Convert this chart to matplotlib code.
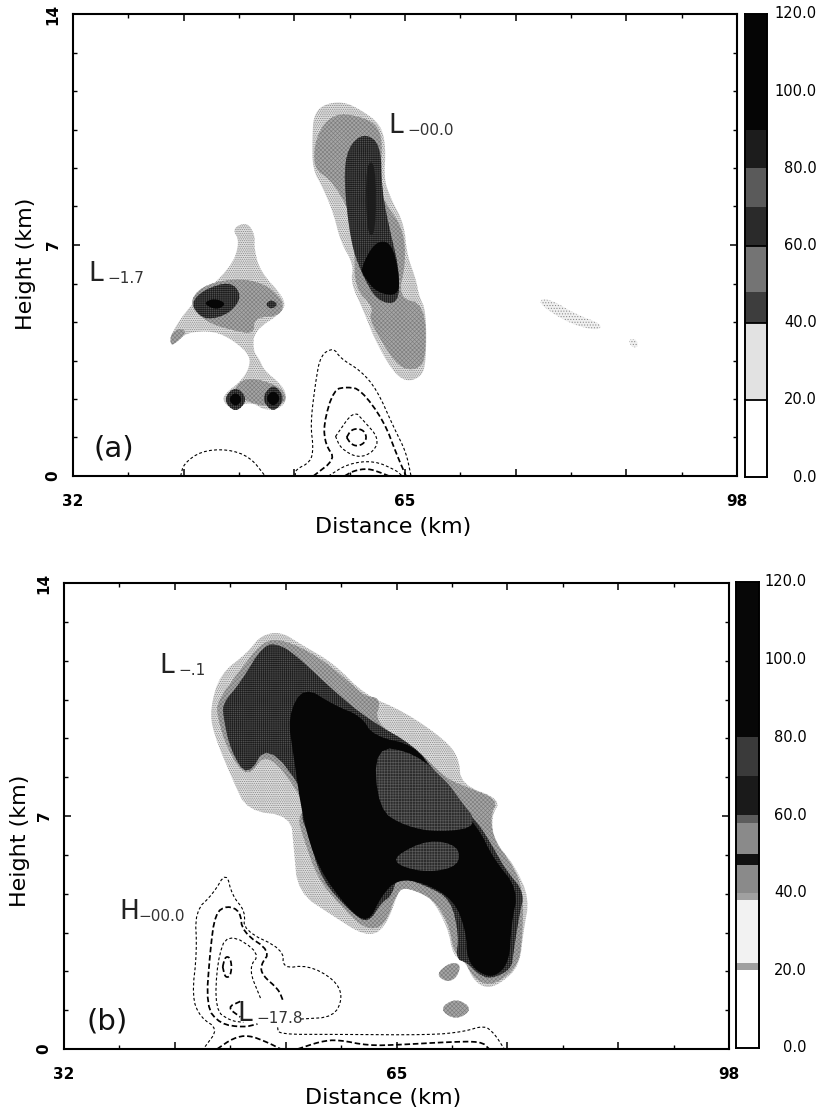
import numpy as np
import matplotlib
matplotlib.use("Agg")
import matplotlib.pyplot as plt

plt.rcParams['hatch.linewidth'] = 0.45

W, H = 822, 1115
# face colour, hatch, hatch colour per reflectivity class (halftone look)
LIGHT = ('#dedede', '.........', '#7a7a7a')
FAINT = ('#f0f0f0', '......', '#888888')
GRAY = ('#a6a6a6', 'xxxxxxxx', '#7c7c7c')
DARK = ('#505050', '++++++++', '#1c1c1c')
BLACK = ('#060606', None, '#060606')
MOTTLE = ('#2c2c2c', '++++++', '#5c5c5c')
STREAK = ('#1c1c1c', None, '#1c1c1c')

# ---------- panel (a) reflectivity outlines (km, km) ----------
a_upper_20 = [(55.9,10.9),(56.8,11.25),(58.8,11.35),(60.6,11.1),(62.6,10.65),(63.1,9.95),(62.9,9.0),(63.6,8.4),(64.9,7.65),(65.2,6.7),(66.1,5.95),(66.4,5.45),(67.1,5.0),(67.1,3.45),(66.6,3.0),(65.1,2.85),(63.7,3.2),(61.9,4.2),(60.9,5.0),(59.6,5.85),(59.9,6.4),(58.6,7.1),(57.9,7.95),(56.9,8.7),(55.8,9.3),(55.8,10.25)]
a_upper_40 = [(56.1,10.3),(57.9,11.0),(60.6,10.9),(62.4,10.6),(62.8,9.9),(62.3,8.8),(63,8.3),(64.8,7.5),(65.1,6.5),(64.3,5.4),(67,5.2),(67.1,3.5),(66,3.2),(64.4,3.3),(62.8,4.0),(61.4,4.8),(61.9,5.1),(60,5.7),(60,6.9),(59.6,8),(57.6,9.0),(55.9,9.3)]
a_upper_60 = [(59.3,9.95),(60.9,10.4),(62.6,10.05),(62.7,8.6),(63.6,7.3),(64.4,6.3),(64.4,5.2),(62.2,5.3),(60.6,6.2),(59.6,7.1),(58.9,9.0)]
a_upper_80 = [(60.6,6.3),(62,7.1),(63.6,7.1),(64.4,6.2),(64.4,5.45),(62.2,5.55),(60.9,6.05)]
a_streak_80 = [(61.1,9.5),(62.1,9.5),(62.1,7.3),(61.2,7.3)]
a_left_20 = [(41.7,4.3),(43.7,5.2),(47.7,6.3),(48.6,7.1),(47.8,7.5),(49.3,7.7),(50.1,7.3),(50,6.9),(50.6,6.2),(53,5.4),(53,5.0),(50,4.4),(49.9,3.8),(50.5,3.55),(51,3.2),(52.8,2.75),(53.3,2.35),(52.6,2.04),(51,2.0),(50,2.2),(49,2.2),(47.8,2.0),(46.8,2.3),(47.3,2.55),(48.6,2.85),(49.5,3.25),(49.6,3.65),(48,4.1),(46,4.4),(43.3,4.35),(42.3,4.05),(41.7,4.0)]
a_left_40 = [(43.5,5.2),(44.7,5.75),(48,6.0),(51,5.85),(53,5.3),(52.6,4.85),(50,4.8),(50,4.3),(48,4.4),(45.3,4.65)]
a_tip_40 = [(41.7,4.3),(42.7,4.5),(43.3,4.35),(42.3,4.05),(41.7,3.95)]
a_lobe_40 = [(49.3,3.03),(52.8,2.7),(53.3,2.2),(51,2.1),(49,2.3),(47.8,2.6)]
a_left_60 = [(43.7,5.23),(45,5.65),(47.7,5.9),(48.8,5.45),(47.7,4.97),(46,4.76),(44.7,4.81)]
a_left_80 = [(44.9,5.23),(46,5.39),(47.3,5.23),(46.3,5.02)]
a_spot_60 = [(51.1,5.2),(51.7,5.35),(52.4,5.2),(51.7,5.05)]
a_dot1_60 = [(46.9,2.32),(48.15,2.74),(49.4,2.32),(48.15,1.9)]
a_dot2_60 = [(50.7,2.35),(51.9,2.82),(53.1,2.35),(51.9,1.9)]
a_dot1_80 = [(47.4,2.32),(48.15,2.56),(48.9,2.32),(48.15,2.08)]
a_dot2_80 = [(51.1,2.35),(51.9,2.62),(52.7,2.35),(51.9,2.08)]
a_far1_20 = [(78.3,5.35),(79.5,5.35),(82,4.9),(84.6,4.6),(84.2,4.4),(81.5,4.6),(78.8,5.1)]
a_far2_20 = [(87.2,4.15),(88,4.15),(88.2,3.9),(87.5,3.9)]

# ---------- panel (a) contours ----------
a_c1 = [(54.1,0),(54.1,0.19),(55.6,0.42),(55.9,0.84),(55.6,1.57),(56.1,2.83),(56.6,3.66),(57.9,3.89),(58.6,3.56),(60.6,3.19),(62.2,2.62),(63.9,1.46),(65.1,0.73),(65.6,0)]
a_c2 = [(55.9,0),(58.1,0.52),(57.1,0.94),(56.9,1.57),(57.9,2.62),(59.3,2.7),(60.6,2.62),(62.9,1.67),(64.2,0.63),(65.1,0)]
a_c3 = [(58.1,1.2),(59.9,1.99),(60.9,1.67),(62.4,1.15),(61.9,0.73),(60.3,0.54),(58.6,0.84),(58.1,1.2)]
a_c4 = [(59.2,1.17),(59.6,1.38),(60.2,1.44),(60.9,1.38),(61.2,1.17),(60.9,0.98),(60.2,0.9),(59.6,0.98),(59.2,1.17)]
a_c5 = [(57.4,0),(59.3,0.37),(61.9,0.47),(64.2,0.16),(64.7,0)]
a_c6 = [(59.0,0),(59.9,0.16),(61.3,0.23),(62.6,0.1),(63.4,0)]
a_c7 = [(42.7,0),(43,0.37),(44.7,0.75),(47.3,0.82),(49.6,0.58),(51.1,0)]

# ---------- panel (b) reflectivity outlines ----------
b_20 = [(46.5,10.23),(47.5,11.27),(50.2,11.9),(51.5,12.42),(53.5,12.54),(55.5,12.16),(58.8,11.58),(61.8,10.65),(65.8,10.13),(69.8,9.29),(71.2,8.75),(71.4,7.94),(75.4,7.5),(74.4,6.98),(74.7,6.25),(76.7,5.52),(78.2,4.53),(77.6,3.54),(77.2,2.5),(75.4,1.98),(73.9,1.82),(72.6,2.08),(71.9,2.6),(70.6,2.81),(70.1,3.65),(68.4,4.58),(66.1,4.95),(65.5,4.97),(63.8,3.56),(61.8,3.4),(58.8,3.98),(55.2,4.7),(54.8,6.06),(54.5,7.0),(50.2,7.16),(48.8,8.04),(46.8,9.5)]
b_40 = [(47.2,10.44),(49.5,11.4),(51.8,12.27),(53.8,12.3),(57.2,11.8),(60.2,11.06),(61.8,10.6),(63.5,10.54),(62.8,9.8),(66.8,9.08),(69.8,8.15),(71.7,7.9),(75.1,7.5),(74.3,7.0),(74.7,6.25),(76.6,5.5),(77.6,4.7),(77.5,3.4),(77.1,2.5),(75.1,2),(73.7,1.93),(72.4,2.24),(71.7,2.7),(70.7,2.9),(70.2,3.75),(68.7,4.5),(66.1,4.85),(65.1,4.75),(63.8,3.67),(61.8,3.6),(59.5,4.3),(57.2,5.1),(55.7,6.4),(55.2,6.95),(56.2,7.3),(52.2,9),(50.2,8.1),(48.2,9),(47.2,10)]
b_60 = [(47.8,10.4),(49.5,11),(51.8,12.15),(53.5,12.15),(55.5,11.7),(58.8,10.75),(62.2,9.9),(66.8,9.1),(68.8,8.35),(69.4,8.1),(70.1,7.7),(73.1,6.8),(74.7,6.0),(75.8,5.4),(77.7,4.7),(77.2,4.05),(76.6,2.9),(76.4,2.4),(74.4,2.1),(73.1,2.25),(72,2.6),(70.9,2.7),(71.2,3.4),(70.4,4.5),(68,4.9),(65.1,5.2),(64.5,4.6),(63.5,4.4),(62.2,3.77),(60.5,4.1),(57.5,5.1),(56.2,6.5),(55.5,7),(56.2,7.6),(52.2,9.2),(50.2,8.15),(48.5,9),(47.8,10)]
b_80 = [(54.2,10),(55.8,10.9),(58.8,10.33),(61.5,10),(62.7,9.4),(66.8,9.13),(68.8,8.25),(69.4,8.0),(70.1,7.6),(73.1,6.67),(74.6,5.73),(77.1,4.79),(76.4,3.75),(76.2,2.6),(74.7,2.14),(73.1,2.3),(72,2.7),(71.9,3.54),(70.7,4.48),(67.7,5),(65.1,5.1),(63.5,4.6),(62.2,3.77),(60.2,4.2),(57.2,5.44),(55.7,6.9),(54.8,8.77)]
b_mottle1 = [(62.8,9.1),(66.8,8.9),(70.1,8.0),(71,7.6),(73.3,6.7),(69.3,6.5),(65.8,6.7),(63.2,7.2)]
b_mottle2 = [(64.8,5.8),(68.2,6.3),(71.2,6.1),(71.2,5.5),(68.2,5.3),(65.2,5.5)]
b_blob1 = [(68.9,2.25),(70.3,2.6),(71.4,2.55),(71,2.15),(70,2.0)]
b_blob2 = [(69.2,1.2),(70.9,1.54),(72.6,1.2),(70.9,0.86)]

# ---------- panel (b) contours ----------
b_c1 = [(46,0.07),(47.3,0.6),(45.5,0.96),(44.7,1.58),(45.2,2.94),(45,4.14),(46.8,4.66),(48.1,5.33),(48.7,4.6),(50,4.14),(49.8,3.56),(53.8,2.99),(53.7,2.42),(56.2,2.52),(58.8,2.1),(59.7,1.58),(58.8,0.96),(55.5,0.9)]
b_c2 = [(53.2,0.65),(53.3,0.44),(58.8,0.44),(68.4,0.42),(71.7,0.52),(73.7,0.71),(74.7,0.47),(75.7,0)]
b_c3 = [(53.7,1.48),(53.3,1.79),(51.7,2.21),(51.5,2.52),(52.5,2.94),(49.7,3.51),(49.5,4.14),(48.2,4.31),(47,4.08),(46.5,2.94),(46.1,1.27),(47.5,0.75),(49.8,0.65),(51.2,0.75)]
b_c4 = [(51.5,1.53),(50.3,2.42),(51.5,2.89),(48.2,3.51),(47.2,2.63),(47,1.17),(48.5,0.85),(49.8,0.8)]
b_c5 = [(47.75,2.47),(47.95,2.72),(48.2,2.78),(48.5,2.72),(48.65,2.47),(48.5,2.2),(48.2,2.15),(47.95,2.2),(47.75,2.47)]
b_c6 = [(49.5,1.43),(48.2,1.25),(49.5,0.96)]
b_c7 = [(47.2,0),(48.8,0.33),(50.3,0.42),(52.2,0.2),(53.5,0)]
b_c8 = [(55.2,0),(57.5,0.23),(59.2,0.28),(62.2,0.1),(65.5,0.13),(70.1,0.21),(73.4,0.23),(74.2,0)]

# ---------- colour bars ----------
cbar_ticks = [0, 20, 40, 60, 80, 100, 120]
cbar_labels = ['0.0', '20.0', '40.0', '60.0', '80.0', '100.0', '120.0']
cbar_a_edges = [0, 20, 40, 48, 60, 70, 80, 90, 120]
cbar_a_cols = ['#ffffff', '#e2e2e2', '#3d3d3d', '#747474', '#2a2a2a', '#5a5a5a', '#1c1c1c', '#050505']
cbar_a_rules = [20, 40, 60]
cbar_b_edges = [0, 20, 22, 38, 40, 47, 50, 58, 60, 70, 80, 120]
cbar_b_cols = ['#ffffff', '#a0a0a0', '#f2f2f2', '#a0a0a0', '#8a8a8a', '#111111', '#8a8a8a', '#5c5c5c', '#1a1a1a', '#3a3a3a', '#070707']
cbar_b_rules = []

x_major = [32, 43, 54, 65, 76, 87, 98]
x_minor = [37.5, 48.5, 59.5, 70.5, 81.5, 92.5]
x_labels = ['32', '', '', '65', '', '', '98']
y_major = [0, 7, 14]
y_minor = [1.1667, 2.3333, 3.5, 4.6667, 5.8333, 8.1667, 9.3333, 10.5, 11.6667, 12.8333]


def smooth(pts, closed=True, n=2):
    p = np.asarray(pts, float)
    for _ in range(n):
        if closed:
            q = np.roll(p, -1, axis=0)
            p = np.column_stack([0.75*p + 0.25*q, 0.25*p + 0.75*q]).reshape(-1, 2)
        else:
            a, b = p[:-1], p[1:]
            mid = np.column_stack([0.75*a + 0.25*b, 0.25*a + 0.75*b]).reshape(-1, 2)
            p = np.vstack([p[:1], mid, p[-1:]])
    return p


def fill(ax, pts, style):
    s = smooth(pts)
    face, hatch, edge = style
    ax.fill(s[:, 0], s[:, 1], facecolor=face, hatch=hatch, edgecolor=edge, lw=0, zorder=2)


def contour(ax, pts, thick=False):
    s = smooth(pts, closed=False)
    ax.plot(s[:, 0], s[:, 1], color='k', lw=1.25 if thick else 0.8,
            dashes=(3.2, 1.6) if thick else (2.6, 2.0), zorder=4)


def px_axes(l, r, t, b):
    return fig.add_axes([l/W, 1-b/H, (r-l)/W, (b-t)/H])


def frame(ax, xl, yl):
    ax.set_xlim(32, 98)
    ax.set_ylim(0, 14)
    ax.set_xticks(x_major)
    ax.set_xticklabels(x_labels, fontsize=11, fontweight='bold')
    ax.set_xticks(x_minor, minor=True)
    ax.set_yticks(y_major)
    ax.set_yticklabels(['0', '7', '14'], rotation=90, va='center', fontsize=11, fontweight='bold')
    ax.set_yticks(y_minor, minor=True)
    ax.tick_params(which='major', direction='in', length=5, width=1.1, top=True, right=True)
    ax.tick_params(which='minor', direction='in', length=3, width=1.0, top=True, right=True)
    ax.tick_params(axis='x', which='major', pad=13)
    ax.tick_params(axis='y', which='major', pad=9)
    for s in ax.spines.values():
        s.set_linewidth(1.5)
    ax.set_xlabel('Distance (km)', fontsize=16)
    ax.set_ylabel('Height (km)', fontsize=16)
    ax.xaxis.set_label_coords(*xl)
    ax.yaxis.set_label_coords(*yl)


def cbar(l, r, t, b, edges, cols, rules, pad):
    c = px_axes(l, r, t, b)
    c.bar(np.zeros(len(cols)), np.diff(edges), bottom=edges[:-1], width=1, color=cols, lw=0)
    for v in rules:
        c.axhline(v, color='k', lw=1.3)
    c.set_xlim(-0.5, 0.5)
    c.set_ylim(0, 120)
    c.set_xticks([])
    c.set_yticks([])
    for v, lab in zip(cbar_ticks, cbar_labels):
        c.annotate(lab, (1, v), xycoords=c.get_yaxis_transform(), xytext=(pad, 0),
                   textcoords='offset points', ha='right', va='center', fontsize=10.5, annotation_clip=False)
    for s in c.spines.values():
        s.set_linewidth(1.4)


def label(ax, x, y, big, sub):
    ax.text(x, y, big, fontsize=19, color='#222222', ha='left', va='baseline', zorder=6)
    ax.text(x + 1.9, y - 0.06, sub, fontsize=11, color='#333333', ha='left', va='baseline', zorder=6)


fig = plt.figure(figsize=(W/100, H/100), dpi=100)

# panel (a)
ax = px_axes(73, 737, 14, 476)
for poly, col in [(a_upper_20, LIGHT), (a_left_20, LIGHT), (a_far1_20, FAINT), (a_far2_20, FAINT),
                  (a_upper_40, GRAY), (a_left_40, GRAY), (a_tip_40, GRAY), (a_lobe_40, GRAY),
                  (a_upper_60, DARK), (a_left_60, DARK), (a_spot_60, DARK), (a_dot1_60, DARK), (a_dot2_60, DARK),
                  (a_upper_80, BLACK), (a_streak_80, STREAK), (a_left_80, BLACK), (a_dot1_80, BLACK), (a_dot2_80, BLACK)]:
    fill(ax, poly, col)
for c, th in [(a_c1, False), (a_c2, True), (a_c3, False), (a_c4, True), (a_c5, False), (a_c6, True), (a_c7, False)]:
    contour(ax, c, th)
frame(ax, (0.482, -0.089), (-0.055, 0.459))
label(ax, 33.5, 5.9, 'L', '\u22121.7')
label(ax, 63.3, 10.4, 'L', '\u221200.0')
ax.text(34.0, 0.6, '(a)', fontsize=21, color='#111111')
cbar(745, 767, 14, 477, cbar_a_edges, cbar_a_cols, cbar_a_rules, 36)

# panel (b)
ax = px_axes(64, 729, 583, 1049)
for poly, col in [(b_20, LIGHT), (b_blob1, GRAY), (b_blob2, GRAY), (b_40, GRAY), (b_60, DARK), (b_80, BLACK),
                  (b_mottle1, MOTTLE), (b_mottle2, MOTTLE)]:
    fill(ax, poly, col)
for c, th in [(b_c1, False), (b_c2, False), (b_c3, True), (b_c4, False), (b_c5, True), (b_c6, True), (b_c7, True), (b_c8, True)]:
    contour(ax, c, th)
frame(ax, (0.48, -0.084), (-0.051, 0.446))
label(ax, 41.5, 11.3, 'L', '\u2212.1')
label(ax, 37.5, 3.9, 'H', '\u221200.0')
label(ax, 49.2, 0.85, 'L', '\u221217.8')
ax.text(34.2, 0.6, '(b)', fontsize=21, color='#111111')
cbar(736, 759, 582, 1048, cbar_b_edges, cbar_b_cols, cbar_b_rules, 34.5)

fig.savefig('out.png', dpi=100)
